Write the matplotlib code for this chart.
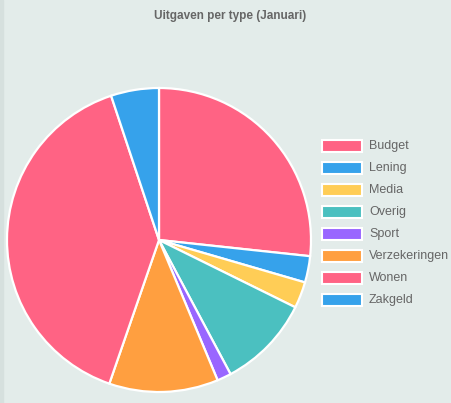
import matplotlib.pyplot as plt
from matplotlib.patches import Rectangle

labels = ["Budget", "Lening", "Media", "Overig", "Sport", "Verzekeringen", "Wonen", "Zakgeld"]
values = [267, 28, 28, 99, 15, 116, 396, 51]
colors = ["#ff6384", "#36a2eb", "#ffcd56", "#4bc0c0", "#9966ff", "#ff9f40", "#ff6384", "#36a2eb"]

W, H = 451, 403
bg = "#e3ecea"
fig = plt.figure(figsize=(W / 100, H / 100), dpi=100, facecolor=bg)

# thin darker strip on the left edge
fig.patches.append(Rectangle((0, 0), 3 / W, 1, transform=fig.transFigure,
                             color="#d6e0de", zorder=0))

# pie: center (159, 240), radius 152 px
cx, cy, r = 159, 240, 152
ax = fig.add_axes([(cx - r) / W, (H - cy - r) / H, 2 * r / W, 2 * r / H])
ax.pie(values, colors=colors, startangle=90, counterclock=False,
       wedgeprops=dict(edgecolor="white", linewidth=1.6))
ax.set_xlim(-1, 1)
ax.set_ylim(-1, 1)
ax.set_aspect("equal")
ax.axis("off")

fig.text(230 / W, 1 - 16 / H, "Uitgaven per type (Januari)", ha="center", va="center",
         fontsize=8.5, fontweight="bold", color="#666666", family="Liberation Sans")

# legend
x0, y0, step = 322, 146, 22
for i, (lab, col) in enumerate(zip(labels, colors)):
    y = y0 + i * step
    fig.patches.append(Rectangle((x0 / W, 1 - (y + 6) / H), 40 / W, 12 / H,
                                 transform=fig.transFigure, facecolor=col,
                                 edgecolor="white", linewidth=1.5))
    fig.text((x0 + 47) / W, 1 - y / H, lab, ha="left", va="center",
             fontsize=9, color="#666666", family="Liberation Sans")

fig.savefig("out.png", dpi=100, facecolor=bg)
